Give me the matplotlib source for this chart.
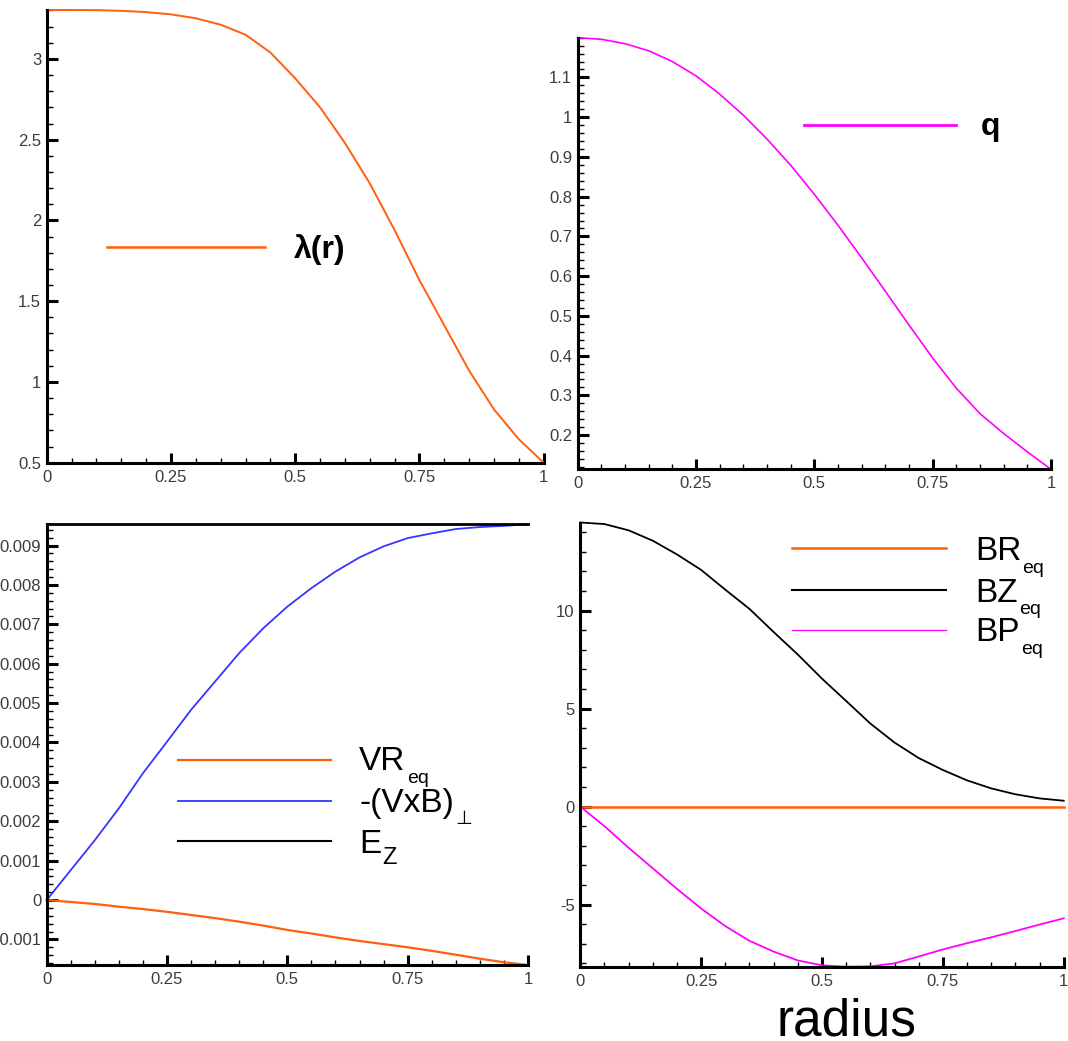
import matplotlib
matplotlib.use('Agg')
import matplotlib.pyplot as plt
from matplotlib.ticker import MultipleLocator, FixedLocator, FixedFormatter

plt.rcParams['font.family'] = ['Liberation Sans', 'DejaVu Sans']
plt.rcParams['axes.unicode_minus'] = False

# radius grid
radius = [0.0, 0.05, 0.1, 0.15, 0.2, 0.25, 0.3, 0.35, 0.4, 0.45, 0.5,
          0.55, 0.6, 0.65, 0.7, 0.75, 0.8, 0.85, 0.9, 0.95, 1.0]

lam = [3.303, 3.303, 3.302, 3.298, 3.29, 3.276, 3.252, 3.212, 3.15, 3.04, 2.88,
       2.70, 2.48, 2.23, 1.94, 1.63, 1.35, 1.07, 0.83, 0.645, 0.5]

q = [1.2, 1.196, 1.185, 1.167, 1.14, 1.104, 1.058, 1.005, 0.945, 0.879, 0.806,
     0.728, 0.646, 0.562, 0.477, 0.394, 0.318, 0.254, 0.204, 0.158, 0.114]

vr_eq = [0.0, -0.00005, -0.0001, -0.00017, -0.00023, -0.0003, -0.00038, -0.00046,
         -0.00055, -0.00065, -0.00076, -0.00085, -0.00095, -0.00104, -0.00112,
         -0.0012, -0.00129, -0.00139, -0.00149, -0.00158, -0.00165]

vxb_perp = [0.0, 0.00076, 0.00152, 0.00233, 0.00322, 0.00402, 0.00483, 0.00555,
            0.00627, 0.0069, 0.00745, 0.00792, 0.00834, 0.0087, 0.00898, 0.00919,
            0.00931, 0.00942, 0.00947, 0.0095, 0.00954]

ez_r = [0.0, 1.0]
e_z = [0.00954, 0.00954]

bz_eq = [14.5, 14.42, 14.1, 13.57, 12.87, 12.08, 11.07, 10.09, 8.91, 7.76, 6.53,
         5.39, 4.24, 3.27, 2.48, 1.87, 1.34, 0.93, 0.63, 0.42, 0.30]

bp_eq = [0.0, -1.0, -2.1, -3.15, -4.2, -5.2, -6.1, -6.85, -7.4, -7.85, -8.1,
         -8.17, -8.15, -8.0, -7.65, -7.29, -6.97, -6.67, -6.35, -6.02, -5.7]

br_r = [0.0, 1.0]
br_eq = [0.0, 0.0]

x_ticks = [0, 0.25, 0.5, 0.75, 1]
x_labels = ['0', '0.25', '0.5', '0.75', '1']
lam_ticks = [0.5, 1, 1.5, 2, 2.5, 3]
lam_labels = ['0.5', '1', '1.5', '2', '2.5', '3']
q_ticks = [0.2, 0.3, 0.4, 0.5, 0.6, 0.7, 0.8, 0.9, 1.0, 1.1]
q_labels = ['0.2', '0.3', '0.4', '0.5', '0.6', '0.7', '0.8', '0.9', '1', '1.1']
e_ticks = [-0.001, 0, 0.001, 0.002, 0.003, 0.004, 0.005, 0.006, 0.007, 0.008, 0.009]
e_labels = ['-0.001', '0', '0.001', '0.002', '0.003', '0.004', '0.005',
            '0.006', '0.007', '0.008', '0.009']
b_ticks = [-5, 0, 5, 10]
b_labels = ['-5', '0', '5', '10']

ORANGE = '#ff5f0f'
MAGENTA = '#ff00ff'
BLUE = '#3535ff'

W, H = 1068, 1041
fig = plt.figure(figsize=(W / 100, H / 100), dpi=100)


def make_axes(left, top, right, bottom):
    return fig.add_axes([left / W, 1 - bottom / H, (right - left) / W, (bottom - top) / H])


def style(ax, ylim, yticks, ylabels, yminor):
    ax.set_xlim(0, 1)
    ax.set_ylim(*ylim)
    for s in ['top', 'right']:
        ax.spines[s].set_visible(False)
    for s in ['left', 'bottom']:
        ax.spines[s].set_linewidth(2.2)
    ax.xaxis.set_major_locator(FixedLocator(x_ticks))
    ax.xaxis.set_major_formatter(FixedFormatter(x_labels))
    ax.xaxis.set_minor_locator(MultipleLocator(0.05))
    ax.yaxis.set_major_locator(FixedLocator(yticks))
    ax.yaxis.set_major_formatter(FixedFormatter(ylabels))
    ax.yaxis.set_minor_locator(MultipleLocator(yminor))
    ax.tick_params(which='both', direction='in', top=False, right=False,
                   labelcolor='#3c3c3c', labelsize=12)
    ax.tick_params(axis='x', which='major', length=7, width=2.2, pad=5)
    ax.tick_params(axis='x', which='minor', length=3.5, width=1)
    ax.tick_params(axis='y', which='major', length=8, width=2.2, pad=4)
    ax.tick_params(axis='y', which='minor', length=4.5, width=1)
    ax.set_facecolor('none')


def entry(ax, x0, x1, y, color, lw, tx, ty, main, sub=None, size=24, sub_size=14,
          weight='normal', va='baseline', drop=-4):
    ax.plot([x0, x1], [y, y], color=color, lw=lw, transform=ax.transAxes, clip_on=False)
    t = ax.text(tx, ty, main, transform=ax.transAxes, fontsize=size, ha='left',
                va=va, weight=weight)
    if sub:
        ax.annotate(sub, xy=(1, 0), xycoords=t, xytext=(1, drop),
                    textcoords='offset points', fontsize=sub_size,
                    ha='left', va='baseline')


# lambda(r)
ax1 = make_axes(46.7, 10, 543.7, 462.7)
style(ax1, (0.5, 3.303), lam_ticks, lam_labels, 0.1)
ax1.plot(radius, lam, color=ORANGE, lw=1.4, clip_on=False)
entry(ax1, 0.122, 0.44, 0.477, ORANGE, 1.8, 0.498, 0.472, 'λ(r)', size=23,
      weight='bold', va='center')

# q
ax2 = make_axes(577.7, 37.7, 1051, 469.3)
style(ax2, (0.114, 1.2), q_ticks, q_labels, 0.02)
ax2.plot(radius, q, color=MAGENTA, lw=1.2, clip_on=False)
entry(ax2, 0.479, 0.80, 0.797, MAGENTA, 2.0, 0.852, 0.775, 'q', size=23, weight='bold')

# velocities / electric field
ax3 = make_axes(46.7, 524.3, 528, 965)
style(ax3, (-0.00165, 0.00954), e_ticks, e_labels, 0.0002)
ax3.plot(radius, vr_eq, color=ORANGE, lw=1.6, clip_on=False)
ax3.plot(radius, vxb_perp, color=BLUE, lw=1.3, clip_on=False)
ax3.plot(ez_r, e_z, color='black', lw=2.0, clip_on=False)
entry(ax3, 0.272, 0.591, 0.4656, ORANGE, 1.6, 0.649, 0.4424, 'VR', 'eq')
entry(ax3, 0.272, 0.591, 0.3727, BLUE, 1.3, 0.649, 0.3477, '-(VxB)', '⊥')
entry(ax3, 0.272, 0.591, 0.2815, 'black', 1.5, 0.649, 0.2538, 'E', 'Z', sub_size=17, drop=-3)

# magnetic field
ax4 = make_axes(580.3, 522.5, 1063.7, 966.7)
style(ax4, (-8.17, 14.5), b_ticks, b_labels, 1)
ax4.plot(br_r, br_eq, color=ORANGE, lw=1.8, clip_on=False)
ax4.plot(radius, bz_eq, color='black', lw=1.3, clip_on=False)
ax4.plot(radius, bp_eq, color=MAGENTA, lw=1.3, clip_on=False)
entry(ax4, 0.437, 0.757, 0.942, ORANGE, 1.8, 0.816, 0.915, 'BR', 'eq')
entry(ax4, 0.437, 0.757, 0.849, 'black', 1.5, 0.816, 0.822, 'BZ', 'eq')
entry(ax4, 0.437, 0.757, 0.757, MAGENTA, 0.9, 0.816, 0.733, 'BP', 'eq')

fig.text(846.5 / W, 1 - 1036 / H, 'radius', fontsize=37, ha='center', va='baseline')

fig.savefig('out.png', dpi=100)
